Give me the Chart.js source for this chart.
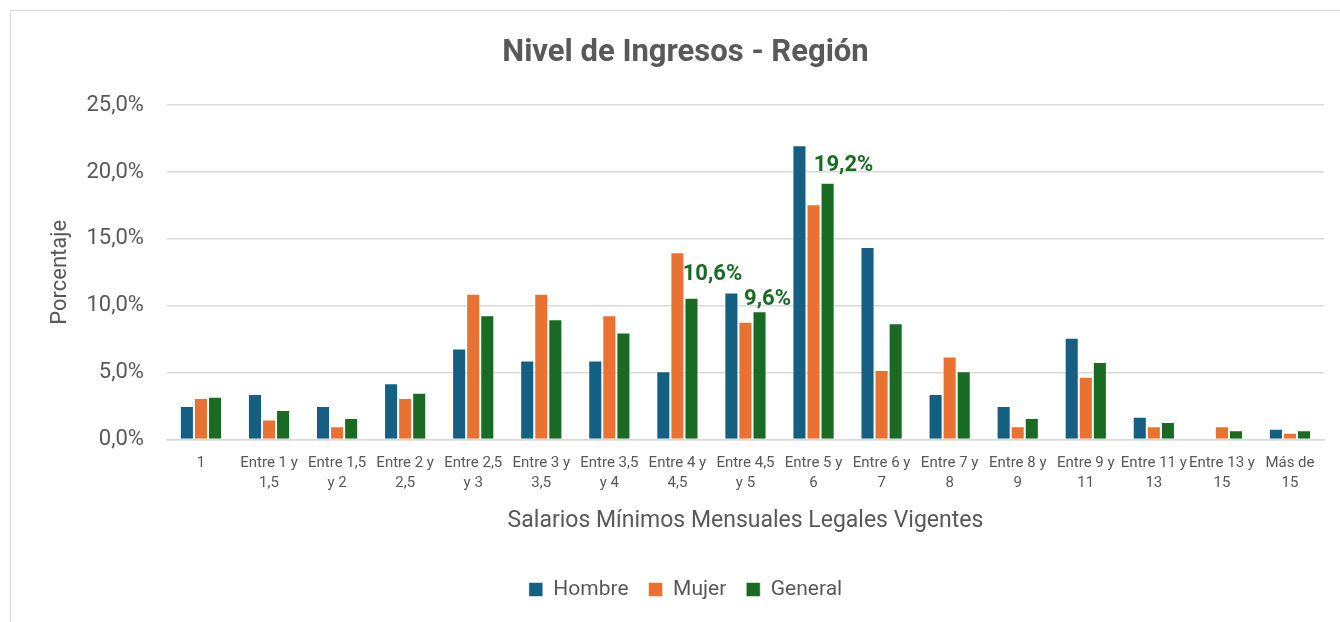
<!DOCTYPE html>
<html>
<head>
<meta charset="utf-8">
<script src="https://cdn.jsdelivr.net/npm/chart.js@4"></script>
<style>
  html, body { margin: 0; padding: 0; background: #fff; }
  #wrap { width: 1340px; height: 622px; position: relative; }
</style>
</head>
<body>
<div id="wrap"><canvas id="chart"></canvas></div>
<script>
// ─── Data ────────────────────────────────────────────────────────────
const categories = [
    '1', ['Entre 1 y', '1,5'], ['Entre 1,5', 'y 2'], ['Entre 2 y', '2,5'],
    ['Entre 2,5', 'y 3'], ['Entre 3 y', '3,5'], ['Entre 3,5', 'y 4'],
    ['Entre 4 y', '4,5'], ['Entre 4,5', 'y 5'], ['Entre 5 y', '6'],
    ['Entre 6 y', '7'], ['Entre 7 y', '8'], ['Entre 8 y', '9'],
    ['Entre 9 y', '11'], ['Entre 11 y', '13'], ['Entre 13 y', '15'],
    ['Más de', '15']
];
const hombre  = [2.5, 3.4, 2.5, 4.2, 6.8, 5.9, 5.9, 5.1, 11.0, 22.0, 14.4, 3.4, 2.5, 7.6, 1.7, 0.0, 0.8];
const mujer   = [3.1, 1.5, 1.0, 3.1, 10.9, 10.9, 9.3, 14.0, 8.8, 17.6, 5.2, 6.2, 1.0, 4.7, 1.0, 1.0, 0.5];
const general = [3.2, 2.2, 1.6, 3.5, 9.3, 9.0, 8.0, 10.6, 9.6, 19.2, 8.7, 5.1, 1.6, 5.8, 1.3, 0.7, 0.7];
const yTicks = [0, 5, 10, 15, 20, 25];
const labelledGeneral = [7, 8, 9]; // General bars carrying a value label

const TEXT = '#595959';
const FONT = 'Roboto, "Open Sans", sans-serif';
const fmt = v => v.toFixed(1).replace('.', ',') + '%';

// ─── Plugins ─────────────────────────────────────────────────────────
// keeps gridlines inside the plot, then draws the outer frame
const framePlugin = {
    id: 'frame',
    beforeDraw(chart) {
        const ctx = chart.ctx;
        ctx.save();
        ctx.beginPath();
        ctx.rect(0, 0, chart.chartArea.right + 1, chart.height);
        ctx.clip();
    },
    afterDraw(chart) {
        const ctx = chart.ctx;
        ctx.restore();
        ctx.save();
        ctx.strokeStyle = '#d9d9d9';
        ctx.lineWidth = 1;
        ctx.beginPath();
        ctx.moveTo(10.5, chart.height);
        ctx.lineTo(10.5, 10.5);
        ctx.lineTo(chart.width, 10.5);
        ctx.stroke();
        ctx.restore();
    }
};

// value labels on a few General bars (Excel-style manual placement)
const valueLabelPlugin = {
    id: 'valueLabels',
    afterDatasetsDraw(chart) {
        const ctx = chart.ctx;
        const meta = chart.getDatasetMeta(2);
        const shift = { 7: [21, -23], 8: [8, -12], 9: [16, -17] };
        ctx.save();
        ctx.font = 'bold 22px ' + FONT;
        ctx.fillStyle = '#196B24';
        ctx.textAlign = 'center';
        ctx.textBaseline = 'middle';
        labelledGeneral.forEach(i => {
            const bar = meta.data[i];
            const [dx, dy] = shift[i] || [0, -12];
            ctx.fillText(fmt(general[i]), bar.x + dx, bar.y + dy);
        });
        ctx.restore();
    }
};

// ─── Chart ───────────────────────────────────────────────────────────
const barStyle = { borderColor: 'rgba(255,255,255,0.55)', borderWidth: 1, categoryPercentage: 0.62, barPercentage: 1.0 };

new Chart(document.getElementById('chart'), {
    type: 'bar',
    data: {
        labels: categories,
        datasets: [
            { label: 'Hombre', data: hombre, backgroundColor: '#156082', ...barStyle },
            { label: 'Mujer', data: mujer, backgroundColor: '#E97132', ...barStyle },
            { label: 'General', data: general, backgroundColor: '#196B24', ...barStyle }
        ]
    },
    options: {
        responsive: true,
        maintainAspectRatio: false,
        animation: false,
        layout: { padding: { top: 22, left: 47, right: 16, bottom: 12 } },
        plugins: {
            title: {
                display: true,
                text: 'Nivel de Ingresos - Región',
                color: TEXT,
                font: { family: FONT, size: 31, weight: 'bold' },
                padding: { top: 13, bottom: 33 }
            },
            legend: {
                position: 'bottom',
                labels: {
                    color: TEXT,
                    boxWidth: 14,
                    boxHeight: 14,
                    padding: 20,
                    font: { family: FONT, size: 21 }
                }
            },
            tooltip: { enabled: false }
        },
        scales: {
            y: {
                min: 0,
                max: 25,
                afterBuildTicks: axis => { axis.ticks = yTicks.map(v => ({ value: v })); },
                ticks: { color: TEXT, padding: 23, font: { family: FONT, size: 22 }, callback: v => fmt(v) },
                grid: { color: '#d9d9d9', lineWidth: 1.5, drawTicks: false },
                border: { display: false },
                title: {
                    display: true,
                    text: 'Porcentaje',
                    color: TEXT,
                    font: { family: FONT, size: 22 },
                    padding: { top: 0, bottom: -10 }
                }
            },
            x: {
                ticks: {
                    color: TEXT,
                    autoSkip: false,
                    maxRotation: 0,
                    minRotation: 0,
                    padding: 14,
                    font: { family: FONT, size: 15, lineHeight: 1.33 }
                },
                grid: { display: false, drawTicks: false },
                border: { color: '#d9d9d9', width: 1.5 },
                title: {
                    display: true,
                    text: 'Salarios Mínimos Mensuales Legales Vigentes',
                    color: TEXT,
                    font: { family: FONT, size: 23 },
                    padding: { top: 0, bottom: 24 }
                }
            }
        }
    },
    plugins: [framePlugin, valueLabelPlugin]
});
</script>
</body>
</html>
